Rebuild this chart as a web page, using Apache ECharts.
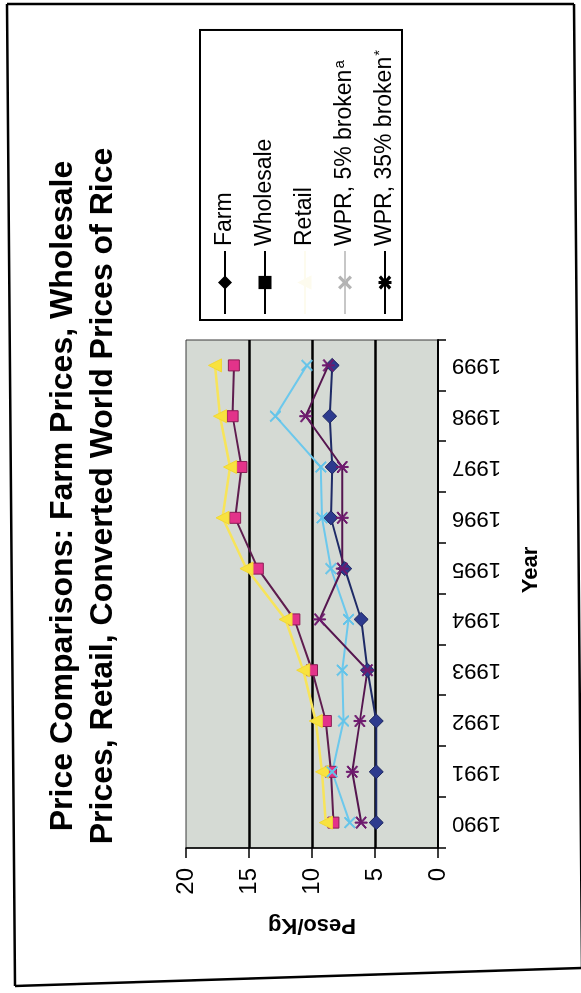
<!DOCTYPE html>
<html>
<head>
<meta charset="utf-8">
<script src="https://cdn.jsdelivr.net/npm/echarts@6/dist/echarts.min.js"></script>
<style>
  html, body { margin: 0; padding: 0; background: #ffffff; overflow: hidden; }
  #page { position: absolute; left: 0; top: 0; width: 581px; height: 993px; overflow: hidden; background: #fff; }
  /* The chart is laid out landscape and turned a quarter turn counter-clockwise on the page */
  #chart { position: absolute; left: 0; top: 0; width: 993px; height: 581px;
           transform-origin: 0 0; transform: translate(0, 993px) rotate(-90deg); }
</style>
</head>
<body>
<div id="page"><div id="chart"></div></div>
<script>
// Rice prices, peso per kilogram, 1990-1999
const years = ['1990', '1991', '1992', '1993', '1994', '1995', '1996', '1997', '1998', '1999'];
const farm      = [4.9, 4.9, 4.9, 5.6, 6.1, 7.4, 8.5, 8.4, 8.6, 8.4];
const wholesale = [8.3, 8.5, 8.9, 10.0, 11.4, 14.3, 16.1, 15.6, 16.3, 16.2];
const retail    = [8.9, 9.2, 9.7, 10.7, 12.1, 15.2, 17.1, 16.5, 17.3, 17.7];
const wpr5      = [7.0, 8.4, 7.5, 7.6, 7.1, 8.5, 9.2, 9.3, 12.9, 10.4];
const wpr35     = [6.1, 6.8, 6.2, 5.6, 9.4, 7.6, 7.6, 7.6, 10.5, 8.7];
const valueTicks = [0, 5, 10, 15, 20];

const seriesNames = ['Farm', 'Wholesale', 'Retail', 'WPR, 5% broken', 'WPR, 35% broken'];
const titleText = 'Price Comparisons: Farm Prices, Wholesale\nPrices, Retail, Converted World Prices of Rice';

// marker shapes drawn as filled bars: an "x" and an asterisk
const xMark = 'path://M2.7,1.3L18.7,17.3L17.3,18.7L1.3,2.7Z M17.3,1.3L18.7,2.7L2.7,18.7L1.3,17.3Z';
const starMark = 'path://M9.2,0L10.8,0L10.8,20L9.2,20Z M2.7,1.3L18.7,17.3L17.3,18.7L1.3,2.7Z M17.3,1.3L18.7,2.7L2.7,18.7L1.3,17.3Z';

const FONT = '"Liberation Sans", Arial, Helvetica, sans-serif';

const chart = echarts.init(document.getElementById('chart'), null, { renderer: 'canvas', width: 993, height: 581 });

function lineSeries(name, data, symbol, size, markColor, borderColor, lineColor, lineWidth) {
  return {
    name: name, type: 'line', data: data,
    symbol: symbol, symbolSize: size, showAllSymbol: true,
    itemStyle: { color: markColor, borderColor: borderColor, borderWidth: 1 },
    lineStyle: { color: lineColor, width: lineWidth },
    emphasis: { disabled: true },
    z: 3
  };
}

// page frame edges (landscape coordinates)
function edge(x1, y1, x2, y2) {
  return { type: 'line', silent: true, z: 0,
           shape: { x1: x1, y1: y1, x2: x2, y2: y2 },
           style: { stroke: '#000', lineWidth: 2.5 } };
}

const option = {
  animation: false,
  backgroundColor: '#ffffff',
  title: {
    text: titleText,
    left: 492, top: 38, textAlign: 'center',
    textStyle: { fontFamily: FONT, fontSize: 32, fontWeight: 'bold', color: '#000', lineHeight: 40 }
  },
  legend: {
    orient: 'vertical',
    left: 673, top: 200,
    padding: [12, 20, 4, 5],
    itemWidth: 63, itemHeight: 14, itemGap: 14,
    borderColor: '#000', borderWidth: 2,
    backgroundColor: '#fff',
    textStyle: {
      fontFamily: FONT, fontSize: 23, color: '#000', lineHeight: 26,
      rich: { sup: { fontFamily: FONT, fontSize: 15, color: '#000', verticalAlign: 'top', lineHeight: 26, padding: [0, 0, 10, 1] } }
    },
    formatter: function (name) {
      if (name === seriesNames[3]) return name + '{sup|a}';
      if (name === seriesNames[4]) return name + '{sup|*}';
      return name;
    },
    data: [
      { name: seriesNames[0], itemStyle: { color: '#000', borderColor: '#000' }, lineStyle: { color: '#000', width: 2 } },
      { name: seriesNames[1], itemStyle: { color: '#000', borderColor: '#000' }, lineStyle: { color: '#000', width: 2 } },
      { name: seriesNames[2], itemStyle: { color: '#fdfbee', borderColor: '#fdfbee' }, lineStyle: { color: '#fdfbee', width: 2 } },
      { name: seriesNames[3], itemStyle: { color: '#b4b4b4', borderColor: '#b4b4b4' }, lineStyle: { color: '#b4b4b4', width: 1.5 } },
      { name: seriesNames[4], itemStyle: { color: '#000', borderColor: '#000' }, lineStyle: { color: '#000', width: 2 } }
    ]
  },
  grid: {
    left: 145, width: 508, top: 186, height: 252,
    show: true, backgroundColor: '#d5dad4', borderColor: '#3a3a3a', borderWidth: 1
  },
  xAxis: {
    type: 'category', data: years, boundaryGap: true,
    name: 'Year', nameLocation: 'middle', nameGap: 82,
    nameTextStyle: { fontFamily: FONT, fontSize: 22, fontWeight: 'bold', color: '#000', padding: [0, 0, 0, 48] },
    axisLine: { show: true, lineStyle: { color: '#000', width: 2 } },
    axisTick: { show: true, inside: false, length: 8, alignWithLabel: false, lineStyle: { color: '#000', width: 1.5 } },
    axisLabel: { rotate: 90, margin: 14, fontFamily: FONT, fontSize: 22, color: '#000' },
    splitLine: { show: false }
  },
  yAxis: {
    type: 'value', min: valueTicks[0], max: valueTicks[valueTicks.length - 1], interval: 5,
    name: 'Peso/Kg', nameLocation: 'middle', nameGap: 66, nameRotate: 90,
    nameTextStyle: { fontFamily: FONT, fontSize: 22, fontWeight: 'bold', color: '#000' },
    axisLine: { show: true, lineStyle: { color: '#000', width: 1.5 } },
    axisTick: { show: true, inside: false, length: 10, lineStyle: { color: '#000', width: 1.5 } },
    axisLabel: { margin: 20, fontFamily: FONT, fontSize: 24, color: '#000' },
    splitLine: { show: true, showMinLine: false, showMaxLine: false, lineStyle: { color: '#000', width: 2.5 } }
  },
  series: [
    lineSeries(seriesNames[0], farm, 'diamond', 14, '#2d3b8e', '#1c2560', '#1e2a66', 2),
    lineSeries(seriesNames[1], wholesale, 'rect', 11, '#e3338a', '#8a1d55', '#5e1c4e', 2),
    lineSeries(seriesNames[2], retail, 'triangle', 13, '#f8e23f', '#f2d835', '#f7e45a', 2.5),
    lineSeries(seriesNames[3], wpr5, xMark, 11, '#63c4ea', '#63c4ea', '#6cc8ec', 2),
    lineSeries(seriesNames[4], wpr35, starMark, 12, '#6e1a6e', '#6e1a6e', '#55154f', 2)
  ],
  graphic: [
    edge(989, 7, 989, 574),   // top of page
    edge(989, 7, 7, 15),      // left side
    edge(7, 15, 25, 581),     // bottom, slightly skewed
    edge(989, 574, 25, 582)   // right side
  ]
};

chart.setOption(option);
</script>
</body>
</html>
